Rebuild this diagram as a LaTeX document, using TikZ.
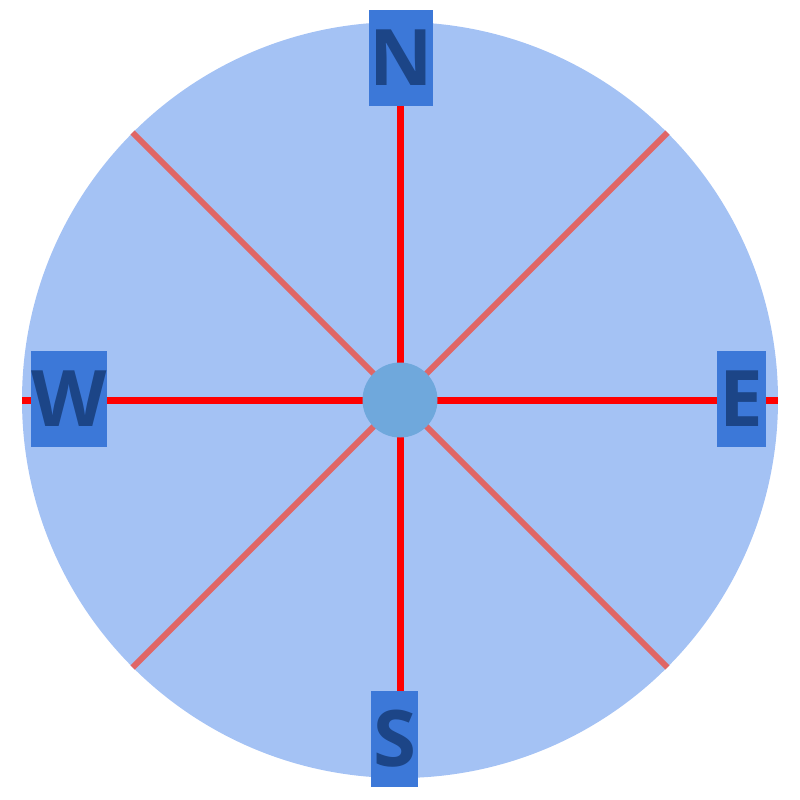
\documentclass[tikz,border=0pt]{standalone}
\usepackage{fontspec}
\setmainfont{Open Sans}
\definecolor{dialfill}{HTML}{A4C2F4}
\definecolor{hubfill}{HTML}{6FA8DC}
\definecolor{boxfill}{HTML}{3C78D8}
\definecolor{letter}{HTML}{1C4587}
\definecolor{mainred}{HTML}{FF0000}
\definecolor{diagred}{HTML}{E06666}
\begin{document}
\begin{tikzpicture}[x=1pt,y=-1pt,
  cardinal/.style={fill=boxfill, text=letter, inner sep=0pt, minimum height=96pt,
    font=\fontsize{78}{80}\selectfont\bfseries},
  mainline/.style={draw=mainred, line width=7pt},
  diagline/.style={draw=diagred, line width=6pt}]
\useasboundingbox (0,0) rectangle (800,800);
\node[circle, fill=dialfill, minimum size=756pt, inner sep=0pt] (dial) at (400,400) {};
\draw[diagline] (dial.north west) -- (dial.south east);
\draw[diagline] (dial.north east) -- (dial.south west);
\draw[mainline] (dial.north) -- (dial.south);
\draw[mainline] (dial.west) -- (dial.east);
\node[circle, fill=hubfill, minimum size=75pt, inner sep=0pt] (hub) at (400,400) {};
\node[cardinal, minimum width=61pt] (n) at (401,58) {N};
\node[cardinal, minimum width=76pt] (w) at (69,399) {W};
\node[cardinal, minimum width=49pt] (e) at (741,399) {E};
\node[cardinal, minimum width=47pt] (s) at (394.5,739) {S};
\end{tikzpicture}
\end{document}
